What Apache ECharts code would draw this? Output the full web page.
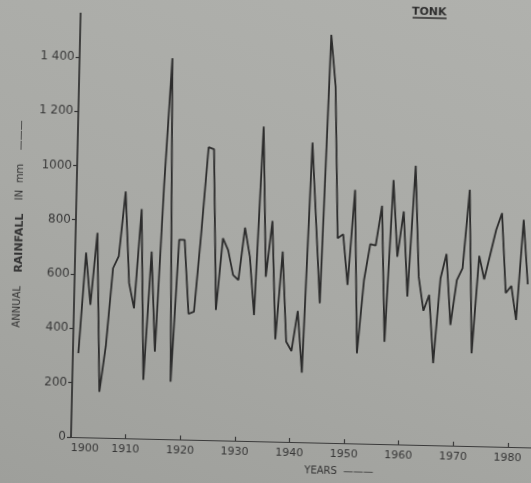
<!DOCTYPE html>
<html>
<head>
<meta charset="utf-8">
<title>TONK - annual rainfall</title>
<script src="https://cdn.jsdelivr.net/npm/echarts@6.0.0/dist/echarts.min.js"></script>
<style>
    html, body {
        margin: 0;
        padding: 0;
        width: 531px;
        height: 483px;
        overflow: hidden;
        background: linear-gradient(200deg, #b0b1ad 0%, #a8a9a5 55%, #9e9f9b 100%);
    }
    /* the scan is turned a little clockwise, so the chart box is turned too */
    #tonk_rain {
        position: absolute;
        left: 0;
        top: -20px;
        width: 570px;
        height: 520px;
        transform: rotate(1.3deg);
        transform-origin: 71px 457px;
    }
</style>
</head>
<body>
<div id="tonk_rain"></div>
<script>
// years and annual rainfall (mm)
var years = [1901, 1902, 1903, 1904, 1905, 1906, 1907, 1908, 1909, 1910,
    1911, 1912, 1913, 1914, 1915, 1916, 1917, 1918, 1919, 1920,
    1921, 1922, 1923, 1924, 1925, 1926, 1927, 1928, 1929, 1930,
    1931, 1932, 1933, 1934, 1935, 1936, 1937, 1938, 1939, 1940,
    1941, 1942, 1943, 1944, 1945, 1946, 1947, 1948, 1949, 1950,
    1951, 1952, 1953, 1954, 1955, 1956, 1957, 1958, 1959, 1960,
    1961, 1962, 1963, 1964, 1965, 1966, 1967, 1968, 1969, 1970,
    1971, 1972, 1973, 1974, 1975, 1976, 1977, 1978, 1979, 1980,
    1981, 1982, 1983];
var rainfall = [309, 680, 488, 754, 169, 338, 625, 670, 908, 571,
    479, 845, 216, 689, 321, 930, 1403, 212, 735, 735,
    463, 472, 760, 1078, 1071, 480, 744, 701, 610, 592,
    785, 679, 464, 1159, 606, 812, 377, 700, 369, 335,
    483, 256, 1104, 808, 513, 1502, 1312, 754, 769, 583,
    933, 332, 602, 735, 730, 877, 377, 973, 691, 858,
    545, 1027, 619, 494, 553, 302, 615, 705, 444, 610,
    654, 943, 342, 701, 615, 706, 798, 860, 566, 593,
    468, 837, 600];

// axis ticks
var yearTicks = [1900, 1910, 1920, 1930, 1940, 1950, 1960, 1970, 1980];
var rainTicks = [0, 200, 400, 600, 800, 1000, 1200, 1400];
var rainTickLabels = ['0', '200', '400', '600', '800', '1000', '1 200', '1 400'];

(function tonk_rain() {
    var myChart_tonk = echarts.init(document.getElementById('tonk_rain'));

    var ink = '#2c2c2c';
    var font = 'DejaVu Sans';

    var option = {
        animation: false,
        grid: {
            left: 71,
            top: 33.3,
            right: 34.9,
            bottom: 63,
            containLabel: false
        },
        xAxis: {
            type: 'value',
            min: 1900,
            max: 1985,
            axisLine: {show: true, lineStyle: {color: '#3a3a3a', width: 1.2}},
            axisTick: {
                show: true,
                inside: true,
                length: 4,
                customValues: yearTicks.slice(1),
                lineStyle: {color: '#3a3a3a', width: 1.2}
            },
            axisLabel: {
                customValues: yearTicks,
                alignMinLabel: 'left',
                margin: 6,
                color: '#363636',
                fontSize: 11,
                fontFamily: font,
                // plain years, no thousands separator
                formatter: function (v) { return String(v); }
            },
            splitLine: {show: false}
        },
        yAxis: {
            type: 'value',
            min: 0,
            max: 1560,
            name: '{a|ANNUAL}    {b|RAINFALL}    {a|IN}  {a|mm}    {a|———}',
            nameLocation: 'middle',
            nameRotate: 90,
            nameGap: 49,
            nameTextStyle: {
                rich: {
                    a: {fontSize: 10, color: '#333', fontFamily: font},
                    b: {fontSize: 11, color: '#333', fontFamily: font, fontWeight: 'bold'}
                }
            },
            axisLine: {show: true, lineStyle: {color: '#262626', width: 1.6}},
            axisTick: {
                show: true,
                length: 4,
                customValues: rainTicks,
                lineStyle: {color: '#333', width: 1.2}
            },
            axisLabel: {
                customValues: rainTicks,
                margin: 5,
                color: '#383838',
                fontSize: 12,
                fontFamily: font,
                formatter: function (v) {
                    var i = rainTicks.indexOf(v);
                    return i < 0 ? '' : rainTickLabels[i];
                }
            },
            splitLine: {show: false}
        },
        graphic: [
            {
                type: 'text',
                x: 419.5,
                y: 23.9,
                style: {
                    text: 'TONK',
                    fill: '#2e2e2e',
                    font: 'bold 11px "DejaVu Sans"',
                    textAlign: 'center',
                    textVerticalAlign: 'middle'
                }
            },
            {
                type: 'line',
                shape: {x1: 403, y1: 30, x2: 437, y2: 30},
                style: {stroke: '#2e2e2e', lineWidth: 1.3}
            },
            {
                type: 'text',
                x: 339.5,
                y: 485.5,
                style: {
                    text: 'YEARS  ———',
                    fill: '#333',
                    font: '10px "DejaVu Sans"',
                    textAlign: 'center',
                    textVerticalAlign: 'middle'
                }
            }
        ],
        series: [{
            type: 'line',
            symbol: 'none',
            clip: true,
            lineStyle: {color: ink, width: 1.8},
            data: years.map(function (y, i) { return [y, rainfall[i]]; })
        }]
    };

    myChart_tonk.setOption(option);
})();
</script>
</body>
</html>
